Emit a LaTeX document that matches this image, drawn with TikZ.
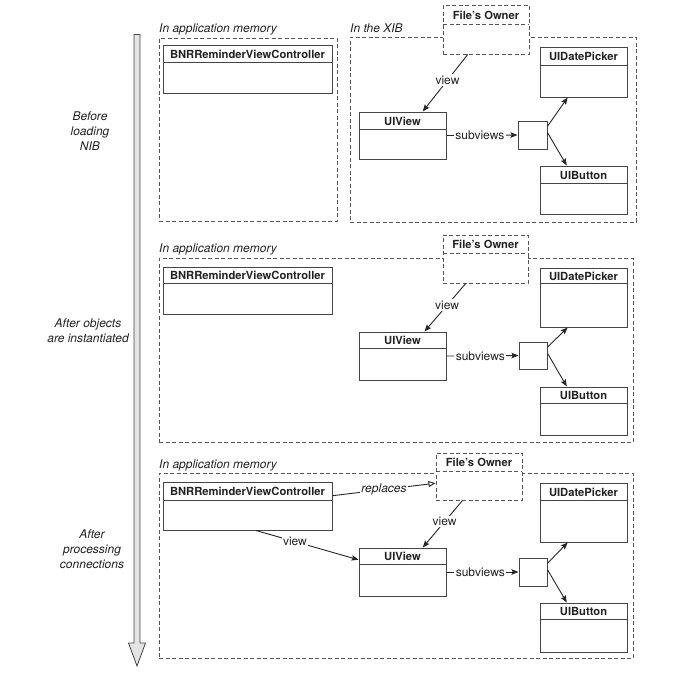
\documentclass[tikz,border=0pt]{standalone}
\usepackage{fontspec}
\setmainfont{TeX Gyre Heros}
\usetikzlibrary{fit,calc,arrows.meta}
\definecolor{linegray}{HTML}{444444}
\definecolor{dashgray}{HTML}{555555}
\definecolor{textdark}{HTML}{222222}
\definecolor{arrowfill}{HTML}{E4E4E4}
\tikzset{
  clsframe/.style={draw=linegray, line width=1pt, fill=white, inner sep=0pt},
  clsline/.style={draw=linegray, line width=1pt},
  clstitle/.style={font=\fontsize{11.2}{13}\selectfont\bfseries, text=textdark, inner sep=0pt},
  dashedcls/.style={dash pattern=on 4pt off 2.5pt, draw=dashgray},
  panel/.style={draw=dashgray, line width=1pt, dash pattern=on 4pt off 2.5pt, inner sep=0pt},
  paneltitle/.style={font=\fontsize{12}{14}\selectfont\itshape, text=textdark, anchor=base west, inner sep=0pt},
  lbl/.style={font=\fontsize{12}{14}\selectfont, text=textdark, fill=white, inner sep=1.5pt},
  replbl/.style={font=\fontsize{12}{14}\selectfont\itshape, text=textdark, fill=white, inner sep=1.5pt},
  sidelbl/.style={font=\fontsize{12}{15}\selectfont\itshape, text=textdark, align=center, inner sep=0pt},
  conn/.style={draw=black!85, line width=0.9pt, -{Stealth[length=7pt,width=5.5pt,inset=1.2pt]}},
  openconn/.style={draw=black!85, line width=0.9pt, -{Triangle[open,length=7pt,width=6pt]}},
  sqbox/.style={draw=linegray, line width=1pt, fill=white, inner sep=0pt},
}
% #1 extra style, #2 name, #3 x1, #4 y1, #5 x2, #6 y2, #7 separator y, #8 title
\newcommand\clsbox[8][]{%
  \coordinate (#2-a) at (#3,#4);
  \coordinate (#2-b) at (#5,#6);
  \node[clsframe, #1, fit=(#2-a)(#2-b)] (#2) {};
  \coordinate (#2-l) at (#3,#7);
  \coordinate (#2-r) at (#5,#7);
  \draw[clsline, #1] (#2-l) -- (#2-r);
  \node[clstitle] (#2-t) at ({(#3+#5)/2},{(#4+#7)/2+0.5}) {#8};
}
\newcommand\sqnode[5]{%
  \coordinate (#1-a) at (#2,#3);
  \coordinate (#1-b) at (#4,#5);
  \node[sqbox, fit=(#1-a)(#1-b)] (#1) {};
}
\newcommand\panelbox[5]{%
  \coordinate (#1-a) at (#2,#3);
  \coordinate (#1-b) at (#4,#5);
  \node[panel, fit=(#1-a)(#1-b)] (#1) {};
}
\begin{document}
\begin{tikzpicture}[x=1pt,y=-1pt]
\useasboundingbox[fill=white] (0,0) rectangle (696,675);

% timeline arrow
\coordinate (ta) at (134,34.5);
\coordinate (tb) at (140,34.5);
\coordinate (tc) at (140,643);
\coordinate (td) at (145.5,643);
\coordinate (te) at (137,666);
\coordinate (tf) at (128.5,643);
\coordinate (tg) at (134,643);
\draw[draw=linegray, fill=arrowfill, line width=0.8pt, line join=miter]
  (ta) -- (tb) -- (tc) -- (td) -- (te) -- (tf) -- (tg) -- cycle;

% side labels
\node[sidelbl] (s1) at (90,131) {Before\\loading\\NIB};
\node[sidelbl] (s2) at (88,331) {After objects\\are instantiated};
\node[sidelbl] (s3) at (92,549) {After\\processing\\connections};

% ===== Panel 1 =====
\panelbox{p1a}{159}{38}{337}{221}
\node[paneltitle] (p1at) at (159,32) {In application memory};
\panelbox{p1b}{350}{37}{636}{222}
\node[paneltitle] (p1bt) at (350,32) {In the XIB};

\clsbox{bnr1}{163}{45}{332}{93}{62}{BNRReminderViewController}
\clsbox[dashedcls]{fo1}{443}{5}{529}{54}{24}{File's Owner}
\clsbox{uv1}{359}{112}{446}{159}{129}{UIView}
\clsbox{dp1}{540}{47}{627}{97}{65}{UIDatePicker}
\clsbox{bt1}{540}{166}{627}{214}{183}{UIButton}
\sqnode{sq1}{518}{121}{547}{149}

\draw[conn] ($(fo1.south west)!0.29!(fo1.south east)$) -- node[lbl, pos=0.45] (v1) {view} ($(uv1.north west)!0.73!(uv1.north east)$);
\draw[conn] (uv1.east) -- node[lbl, pos=0.47] (sv1) {subviews} (sq1.west);
\draw[conn] ($(sq1.north east)!0.2!(sq1.south east)$) -- ($(dp1.south west)!0.32!(dp1.south east)$);
\draw[conn] ($(sq1.north east)!0.42!(sq1.south east)$) -- ($(bt1.north west)!0.31!(bt1.north east)$);

% ===== Panel 2 =====
\panelbox{p2}{159}{258}{633}{442}
\node[paneltitle] (p2t) at (159,252) {In application memory};

\clsbox{bnr2}{163}{267}{332}{314}{283}{BNRReminderViewController}
\clsbox[dashedcls]{fo2}{443}{235}{528}{283}{253}{File's Owner}
\clsbox{uv2}{359}{332}{446}{380}{348}{UIView}
\clsbox{dp2}{540}{268}{627}{327}{283}{UIDatePicker}
\clsbox{bt2}{540}{387}{627}{435}{403}{UIButton}
\sqnode{sq2}{519}{342}{547}{369}

\draw[conn] ($(fo2.south west)!0.27!(fo2.south east)$) -- node[lbl, pos=0.45] (v2) {view} ($(uv2.north west)!0.75!(uv2.north east)$);
\draw[conn] (uv2.east) -- node[lbl, pos=0.47] (sv2) {subviews} (sq2.west);
\draw[conn] ($(sq2.north east)!0.2!(sq2.south east)$) -- ($(dp2.south west)!0.32!(dp2.south east)$);
\draw[conn] ($(sq2.north east)!0.42!(sq2.south east)$) -- ($(bt2.north west)!0.31!(bt2.north east)$);

% ===== Panel 3 =====
\panelbox{p3}{159}{473}{633}{658}
\node[paneltitle] (p3t) at (159,468) {In application memory};

\clsbox{bnr3}{163}{482}{332}{530}{500}{BNRReminderViewController}
\clsbox[dashedcls]{fo3}{436}{453}{522}{500}{471}{File's Owner}
\clsbox{uv3}{359}{548}{446}{596}{564}{UIView}
\clsbox{dp3}{540}{483}{627}{542}{500}{UIDatePicker}
\clsbox{bt3}{540}{603}{627}{652}{619}{UIButton}
\sqnode{sq3}{519}{558}{547}{586}

\draw[openconn] ($(bnr3.north east)!0.29!(bnr3.south east)$) -- node[replbl, pos=0.5] (rp3) {replaces} ($(fo3.north west)!0.64!(fo3.south west)$);
\draw[conn] ($(fo3.south west)!0.31!(fo3.south east)$) -- node[lbl, pos=0.45] (v3) {view} ($(uv3.north west)!0.73!(uv3.north east)$);
\draw[conn] ($(bnr3.south west)!0.55!(bnr3.south east)$) -- node[lbl, pos=0.38] (vb3) {view} ($(uv3.north west)!0.25!(uv3.south west)$);
\draw[conn] (uv3.east) -- node[lbl, pos=0.47] (sv3) {subviews} (sq3.west);
\draw[conn] ($(sq3.north east)!0.2!(sq3.south east)$) -- ($(dp3.south west)!0.32!(dp3.south east)$);
\draw[conn] ($(sq3.north east)!0.42!(sq3.south east)$) -- ($(bt3.north west)!0.31!(bt3.north east)$);
\end{tikzpicture}
\end{document}
